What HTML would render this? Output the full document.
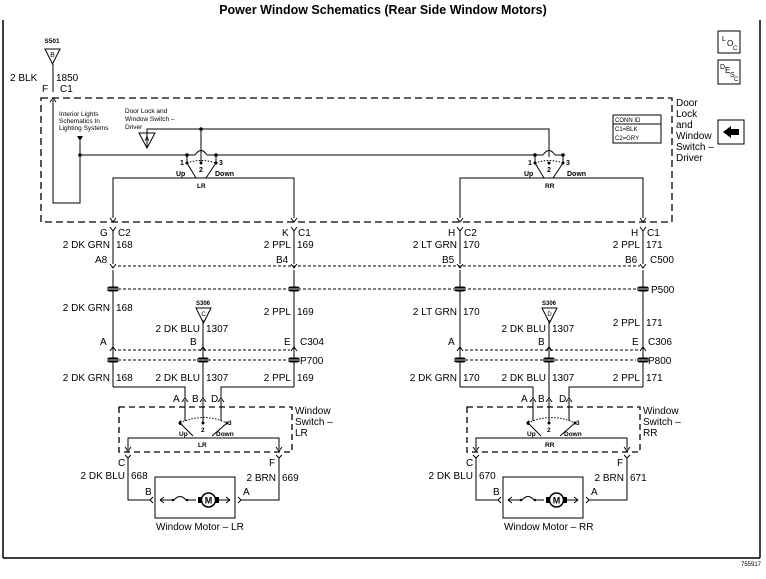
<!DOCTYPE html>
<html><head><meta charset="utf-8"><style>
html,body{margin:0;padding:0;background:#fff;}
svg{display:block;font-family:"Liberation Sans",Arial,sans-serif;}
text{fill:#000;}
.t{font-size:10px;}
.s{font-size:7px;}
.b{font-weight:bold;}
</style></head><body>
<svg width="766" height="579" viewBox="0 0 766 579" xmlns="http://www.w3.org/2000/svg">
<defs>
<g id="blob"><rect x="-6" y="-2.5" width="12" height="5" rx="2.5" fill="#000"/><line x1="-6" y1="0" x2="6" y2="0" stroke="#fff" stroke-width="0.8"/></g>
<g id="dn"><path d="M-3,-4 L0,0 L3,-4" fill="none" stroke="#000" stroke-width="1"/></g>
<g id="up"><path d="M-3,4 L0,0 L3,4" fill="none" stroke="#000" stroke-width="1"/></g>
</defs>
<text x="383" y="14" text-anchor="middle" font-size="12.5" font-weight="bold">Power Window Schematics (Rear Side Window Motors)</text>
<!-- frame -->
<line x1="3" y1="20" x2="3" y2="558" stroke="#000" stroke-width="1.5"/>
<line x1="760" y1="20" x2="760" y2="558" stroke="#000" stroke-width="1.5"/>
<line x1="3" y1="558" x2="760" y2="558" stroke="#000" stroke-width="1.5"/>
<!-- side boxes -->
<rect x="718" y="31" width="22" height="22" fill="none" stroke="#000"/>
<text x="722" y="41" font-size="7">L</text><text x="727" y="46" font-size="8">O</text><text x="733" y="50" font-size="6">C</text>
<rect x="718" y="60" width="22" height="24" fill="none" stroke="#000"/>
<text x="720" y="69" font-size="7">D</text><text x="725" y="73" font-size="8">E</text><text x="730" y="77" font-size="7">S</text><text x="734" y="81" font-size="6">C</text>
<rect x="718" y="120" width="26" height="24" fill="none" stroke="#000"/>
<path d="M723,132 L731,126 L731,129 L739,129 L739,135 L731,135 L731,138 Z" fill="#000"/>
<!-- S501 -->
<text x="52" y="43" text-anchor="middle" font-size="6.5" font-weight="bold">S501</text>
<path d="M45,49 L60,49 L52.5,64 Z" fill="none" stroke="#000"/>
<text x="52.5" y="57" text-anchor="middle" font-size="7">B</text>
<line x1="53" y1="64" x2="53" y2="92" stroke="#000"/>
<text x="10" y="81" class="t">2 BLK</text><text x="56" y="81" class="t">1850</text>
<text x="42" y="92" class="t">F</text><text x="60" y="92" class="t">C1</text>
<use href="#up" x="53" y="98"/>
<!-- driver dashed box -->
<rect x="41" y="98" width="631" height="124" fill="none" stroke="#000" stroke-width="1.3" stroke-dasharray="7,4"/>
<text class="t" x="676" y="106">Door</text><text class="t" x="676" y="117">Lock</text><text class="t" x="676" y="128">and</text><text class="t" x="676" y="139">Window</text><text class="t" x="676" y="150">Switch –</text><text class="t" x="676" y="161">Driver</text>
<rect x="613" y="115" width="48" height="28" fill="none" stroke="#000"/>
<line x1="613" y1="124" x2="661" y2="124" stroke="#000"/>
<text x="615" y="122" font-size="6">CONN ID</text><text x="615" y="131" font-size="6">C1=BLK</text><text x="615" y="140" font-size="6">C2=GRY</text>
<text x="59" y="116" font-size="6.5">Interior Lights</text><text x="59" y="123" font-size="6.5">Schematics In</text><text x="59" y="130" font-size="6.5">Lighting Systems</text>
<path d="M77,136 L83,136 L80,141 Z" fill="#000"/>
<text x="125" y="113" font-size="6.5">Door Lock and</text><text x="125" y="121" font-size="6.5">Window Switch –</text><text x="125" y="129" font-size="6.5">Driver</text>
<path d="M139,133 L155,133 L147,148 Z" fill="none" stroke="#000"/>
<text x="147" y="141" text-anchor="middle" font-size="7">A</text>
<g fill="none" stroke="#000" stroke-width="1">
<path d="M53,100 L53,203 L80,203 L80,141"/>
<path d="M80,155 L195,155 M207,155 L536,155 M 548,155"/>
<path d="M195,155 Q201,146 207,155"/>
<path d="M147,148 L147,129 L549,129 L549,157"/>
<path d="M201,129 L201,163"/>
<path d="M543,155 Q549,146 555,155"/>
<path d="M536,155 L543,155 M555,155 L563,155 L563,163 M535,155 L535,163"/>
<path d="M207,155 L216,155 L216,163 M187,155 L187,163"/>
<!-- LR switch -->
<path d="M187,163 L196,178 M216,163 L206,178"/>
<path d="M113,218 L113,178 L294,178 L294,218"/>
<path d="M187,163 Q201,158 216,163" stroke-dasharray="1.5,1.5"/>
<!-- RR switch -->
<path d="M535,163 L544,178 M563,163 L553,178"/>
<path d="M460,218 L460,178 L643,178 L643,218"/>
<path d="M535,163 Q549,158 563,163" stroke-dasharray="1.5,1.5"/>
</g>
<g fill="#000"><circle cx="201" cy="129" r="1.8"/><circle cx="80" cy="155" r="1.8"/><circle cx="187" cy="155" r="1.8"/><circle cx="216" cy="155" r="1.8"/><circle cx="201" cy="163" r="1.5"/><circle cx="187" cy="163" r="1.5"/><circle cx="216" cy="163" r="1.5"/><circle cx="535" cy="155" r="1.8"/><circle cx="563" cy="155" r="1.8"/><circle cx="549" cy="163" r="1.5"/><circle cx="535" cy="163" r="1.5"/><circle cx="563" cy="163" r="1.5"/></g>
<text x="180" y="165" font-size="7" font-weight="bold">1</text><text x="199" y="172" font-size="7" font-weight="bold">2</text><text x="219" y="165" font-size="7" font-weight="bold">3</text>
<text x="176" y="176" font-size="7" font-weight="bold">Up</text><text x="215" y="176" font-size="7" font-weight="bold">Down</text><text x="197" y="188" font-size="6.5" font-weight="bold">LR</text>
<text x="528" y="165" font-size="7" font-weight="bold">1</text><text x="547" y="172" font-size="7" font-weight="bold">2</text><text x="566" y="165" font-size="7" font-weight="bold">3</text>
<text x="524" y="176" font-size="7" font-weight="bold">Up</text><text x="567" y="176" font-size="7" font-weight="bold">Down</text><text x="545" y="188" font-size="6.5" font-weight="bold">RR</text>
<use href="#dn" x="113" y="222"/><use href="#dn" x="294" y="222"/><use href="#dn" x="460" y="222"/><use href="#dn" x="643" y="222"/>
<!-- C1/C2 -->
<g fill="none" stroke="#000">
<path d="M110,227 L113,231 L116,227 M113,231 L113,264"/>
<path d="M291,227 L294,231 L297,227 M294,231 L294,264"/>
<path d="M457,227 L460,231 L463,227 M460,231 L460,264"/>
<path d="M640,227 L643,231 L646,227 M643,231 L643,264"/>
</g>
<text class="t" x="100" y="236">G</text><text class="t" x="118" y="236">C2</text>
<text class="t" x="282" y="236">K</text><text class="t" x="298" y="236">C1</text>
<text class="t" x="448" y="236">H</text><text class="t" x="464" y="236">C2</text>
<text class="t" x="631" y="236">H</text><text class="t" x="647" y="236">C1</text>
<text class="t" x="110" y="248" text-anchor="end">2 DK GRN</text><text class="t" x="116" y="248">168</text>
<text class="t" x="291" y="248" text-anchor="end">2 PPL</text><text class="t" x="297" y="248">169</text>
<text class="t" x="457" y="248" text-anchor="end">2 LT GRN</text><text class="t" x="463" y="248">170</text>
<text class="t" x="640" y="248" text-anchor="end">2 PPL</text><text class="t" x="646" y="248">171</text>
<text class="t" x="95" y="263">A8</text><text class="t" x="276" y="263">B4</text><text class="t" x="442" y="263">B5</text><text class="t" x="625" y="263">B6</text><text class="t" x="650" y="263">C500</text>
<use href="#dn" x="113" y="268"/><use href="#dn" x="294" y="268"/><use href="#dn" x="460" y="268"/><use href="#dn" x="643" y="268"/>
<line x1="118" y1="266" x2="640" y2="266" stroke="#000" stroke-dasharray="3,2"/>
<line x1="118" y1="289" x2="638" y2="289" stroke="#000" stroke-dasharray="3,2"/>
<g stroke="#000" fill="none">
<line x1="113" y1="270" x2="113" y2="387"/><line x1="294" y1="270" x2="294" y2="387"/>
<line x1="460" y1="270" x2="460" y2="387"/><line x1="643" y1="270" x2="643" y2="387"/>
</g>
<use href="#blob" x="113" y="289"/><use href="#blob" x="294" y="289"/><use href="#blob" x="460" y="289"/><use href="#blob" x="643" y="289"/>
<text class="t" x="651" y="293">P500</text>
<text class="t" x="110" y="311" text-anchor="end">2 DK GRN</text><text class="t" x="116" y="311">168</text>
<text class="t" x="291" y="315" text-anchor="end">2 PPL</text><text class="t" x="297" y="315">169</text>
<text class="t" x="457" y="315" text-anchor="end">2 LT GRN</text><text class="t" x="463" y="315">170</text>
<text class="t" x="640" y="326" text-anchor="end">2 PPL</text><text class="t" x="646" y="326">171</text>
<!-- lower sections -->
<g id="lr">
<g fill="none" stroke="#000">
<line x1="203" y1="320" x2="203" y2="398"/>
<path d="M113,387 L185,387 L185,398 M294,387 L221,387 L221,398"/>
<line x1="118" y1="350" x2="290" y2="350" stroke-dasharray="3,2"/>
<line x1="118" y1="360" x2="288" y2="360" stroke-dasharray="3,2"/>
<rect x="119" y="407" width="173" height="45" stroke-width="1.3" stroke-dasharray="6,4"/>
<path d="M185,400 L185,421 M203,400 L203,423 M221,400 L221,421"/>
<path d="M180,423 L193,436 M227,423 L212,436"/>
<path d="M180,423 Q203,412 227,423" stroke-dasharray="1.5,1.5"/>
<path d="M128,449 L128,438 L279,438 L279,449"/>
<path d="M125,455 L128,458 L131,455 M128,458 L128,500 L150,500"/>
<path d="M276,455 L279,458 L282,455 M279,458 L279,500 L241,500"/>
<rect x="155" y="477" width="80" height="41"/>
<path d="M160,500 L172,500 M188,500 L196,500 M214,500 L230,500"/>
<path d="M174,500 Q180,493 186,500"/>
</g>
<path d="M198,497 L203,497 L203,503 L198,503 Z M219,497 L214,497 L214,503 L219,503 Z" fill="#000"/>
<circle cx="208.5" cy="500" r="7" fill="#fff" stroke="#000" stroke-width="1.5"/>
<text x="208.5" y="503.5" text-anchor="middle" font-size="9" font-weight="bold">M</text>
<path d="M160,500 L164,497 M160,500 L164,503 M230,500 L226,497 M230,500 L226,503 M150,500 L153,497 M150,500 L153,503 M241,500 L238,497 M241,500 L238,503" stroke="#000" fill="none"/>
<circle cx="173" cy="500" r="1.3" fill="#000"/><circle cx="187" cy="500" r="1.3" fill="#000"/>
<circle cx="180" cy="423" r="1.5" fill="#000"/><circle cx="227" cy="423" r="1.5" fill="#000"/><circle cx="203" cy="423" r="1.5" fill="#000"/>
<use href="#up" x="113" y="347"/><use href="#up" x="203" y="347"/><use href="#up" x="294" y="347"/>
<use href="#up" x="185" y="398"/><use href="#up" x="203" y="398"/><use href="#up" x="221" y="398"/>
<use href="#dn" x="128" y="451"/><use href="#dn" x="279" y="451"/>
<use href="#blob" x="113" y="360"/><use href="#blob" x="203" y="360"/><use href="#blob" x="294" y="360"/>
<path d="M196,308 L211,308 L203.5,323 Z" fill="none" stroke="#000"/>
<text x="203" y="305" text-anchor="middle" font-size="6" font-weight="bold">S306</text>
<text class="t" x="200" y="332" text-anchor="end">2 DK BLU</text><text class="t" x="206" y="332">1307</text>
<text class="t" x="100" y="345">A</text><text class="t" x="190" y="345">B</text><text class="t" x="284" y="345">E</text>
<text class="t" x="110" y="381" text-anchor="end">2 DK GRN</text><text class="t" x="116" y="381">168</text>
<text class="t" x="200" y="381" text-anchor="end">2 DK BLU</text><text class="t" x="206" y="381">1307</text>
<text class="t" x="291" y="381" text-anchor="end">2 PPL</text><text class="t" x="297" y="381">169</text>
<text class="t" x="173" y="402">A</text><text class="t" x="192" y="402">B</text><text class="t" x="211" y="402">D</text>
<text class="t" x="295" y="414">Window</text><text class="t" x="295" y="425">Switch –</text><text class="t" x="295" y="436">LR</text>
<text x="179" y="425" font-size="6.5" font-weight="bold">1</text><text x="201" y="432" font-size="6.5" font-weight="bold">2</text><text x="228" y="425" font-size="6.5" font-weight="bold">3</text>
<text x="179" y="436" font-size="6.5" font-weight="bold">Up</text><text x="216" y="436" font-size="6.5" font-weight="bold">Down</text>
<text x="198" y="447" font-size="6.5" font-weight="bold">LR</text>
<text class="t" x="118" y="466">C</text><text class="t" x="269" y="466">F</text>
<text class="t" x="125" y="479" text-anchor="end">2 DK BLU</text><text class="t" x="131" y="479">668</text>
<text class="t" x="276" y="481" text-anchor="end">2 BRN</text><text class="t" x="282" y="481">669</text>
<text class="t" x="145" y="495">B</text><text class="t" x="243" y="495">A</text>
<text class="t" x="156" y="530">Window Motor – LR</text>
</g>
<g transform="translate(348,0)">
<g fill="none" stroke="#000">
<line x1="201" y1="320" x2="201" y2="398"/>
<path d="M112,387 L185,387 L185,398 M295,387 L221,387 L221,398"/>
<line x1="117" y1="350" x2="290" y2="350" stroke-dasharray="3,2"/>
<line x1="117" y1="360" x2="288" y2="360" stroke-dasharray="3,2"/>
<rect x="119" y="407" width="173" height="45" stroke-width="1.3" stroke-dasharray="6,4"/>
<path d="M185,400 L185,421 M201,400 L201,423 M221,400 L221,421"/>
<path d="M180,423 L193,436 M227,423 L212,436"/>
<path d="M180,423 Q203,412 227,423" stroke-dasharray="1.5,1.5"/>
<path d="M128,449 L128,438 L279,438 L279,449"/>
<path d="M125,455 L128,458 L131,455 M128,458 L128,500 L150,500"/>
<path d="M276,455 L279,458 L282,455 M279,458 L279,500 L241,500"/>
<rect x="155" y="477" width="80" height="41"/>
<path d="M160,500 L172,500 M188,500 L196,500 M214,500 L230,500"/>
<path d="M174,500 Q180,493 186,500"/>
</g>
<path d="M198,497 L203,497 L203,503 L198,503 Z M219,497 L214,497 L214,503 L219,503 Z" fill="#000"/>
<circle cx="208.5" cy="500" r="7" fill="#fff" stroke="#000" stroke-width="1.5"/>
<text x="208.5" y="503.5" text-anchor="middle" font-size="9" font-weight="bold">M</text>
<path d="M160,500 L164,497 M160,500 L164,503 M230,500 L226,497 M230,500 L226,503 M150,500 L153,497 M150,500 L153,503 M241,500 L238,497 M241,500 L238,503" stroke="#000" fill="none"/>
<circle cx="173" cy="500" r="1.3" fill="#000"/><circle cx="187" cy="500" r="1.3" fill="#000"/>
<circle cx="180" cy="423" r="1.5" fill="#000"/><circle cx="227" cy="423" r="1.5" fill="#000"/><circle cx="201" cy="423" r="1.5" fill="#000"/>
<use href="#up" x="112" y="347"/><use href="#up" x="201" y="347"/><use href="#up" x="295" y="347"/>
<use href="#up" x="185" y="398"/><use href="#up" x="201" y="398"/><use href="#up" x="221" y="398"/>
<use href="#dn" x="128" y="451"/><use href="#dn" x="279" y="451"/>
<use href="#blob" x="112" y="360"/><use href="#blob" x="201" y="360"/><use href="#blob" x="295" y="360"/>
<path d="M194,308 L209,308 L201.5,323 Z" fill="none" stroke="#000"/>
<text x="201" y="305" text-anchor="middle" font-size="6" font-weight="bold">S306</text>
<text x="201.5" y="316" text-anchor="middle" font-size="6">D</text>
<text class="t" x="198" y="332" text-anchor="end">2 DK BLU</text><text class="t" x="204" y="332">1307</text>
<text class="t" x="100" y="345">A</text><text class="t" x="190" y="345">B</text><text class="t" x="284" y="345">E</text><text class="t" x="300" y="345">C306</text>
<text class="t" x="300" y="364">P800</text>
<text class="t" x="109" y="381" text-anchor="end">2 DK GRN</text><text class="t" x="115" y="381">170</text>
<text class="t" x="198" y="381" text-anchor="end">2 DK BLU</text><text class="t" x="204" y="381">1307</text>
<text class="t" x="292" y="381" text-anchor="end">2 PPL</text><text class="t" x="298" y="381">171</text>
<text class="t" x="173" y="402">A</text><text class="t" x="190" y="402">B</text><text class="t" x="211" y="402">D</text>
<text class="t" x="295" y="414">Window</text><text class="t" x="295" y="425">Switch –</text><text class="t" x="295" y="436">RR</text>
<text x="179" y="425" font-size="6.5" font-weight="bold">1</text><text x="199" y="432" font-size="6.5" font-weight="bold">2</text><text x="228" y="425" font-size="6.5" font-weight="bold">3</text>
<text x="179" y="436" font-size="6.5" font-weight="bold">Up</text><text x="216" y="436" font-size="6.5" font-weight="bold">Down</text>
<text x="197" y="447" font-size="6.5" font-weight="bold">RR</text>
<text class="t" x="118" y="466">C</text><text class="t" x="269" y="466">F</text>
<text class="t" x="125" y="479" text-anchor="end">2 DK BLU</text><text class="t" x="131" y="479">670</text>
<text class="t" x="276" y="481" text-anchor="end">2 BRN</text><text class="t" x="282" y="481">671</text>
<text class="t" x="145" y="495">B</text><text class="t" x="243" y="495">A</text>
<text class="t" x="156" y="530">Window Motor – RR</text>
</g>
<text x="203.5" y="316" text-anchor="middle" font-size="6">C</text>
<text class="t" x="300" y="345">C304</text><text class="t" x="300" y="364">P700</text>
<text x="741" y="566" font-size="6">755917</text>
</svg>
</body></html>
